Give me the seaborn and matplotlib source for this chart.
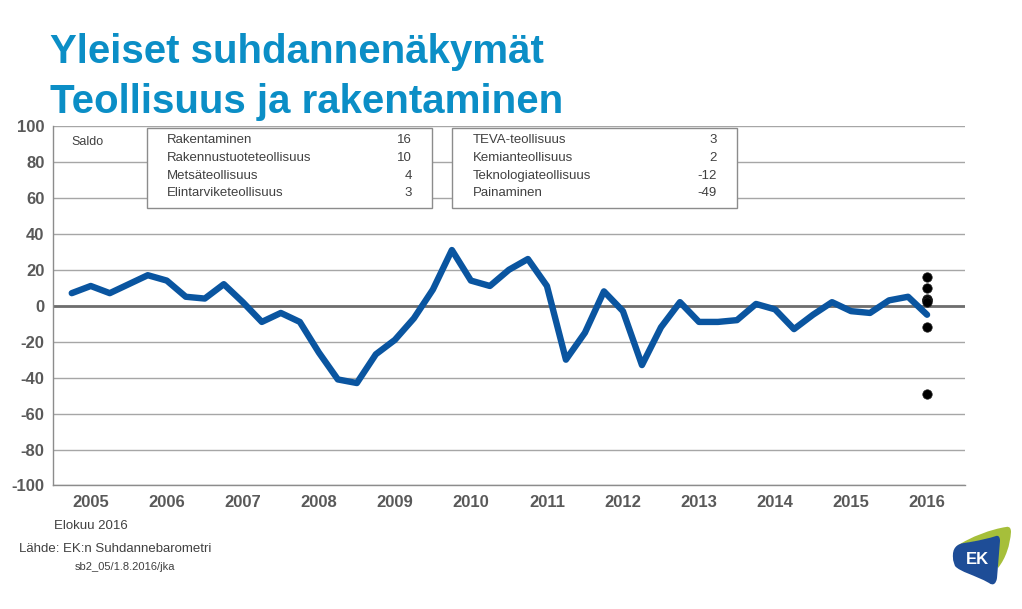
import matplotlib
matplotlib.use("Agg")
import matplotlib.pyplot as plt
import matplotlib.ticker as mticker
from matplotlib.patches import Rectangle, PathPatch
from matplotlib.path import Path
import seaborn as sns
import pandas as pd
import numpy as np

# =========================
# DATA
# =========================

years = [2005, 2006, 2007, 2008, 2009, 2010, 2011, 2012, 2013, 2014, 2015, 2016]

# quarterly saldo, 2005 Q2 ... 2016 Q3
saldo = [7, 11, 7, 12, 17, 14, 5, 4, 12, 2, -9, -4,
         -9, -26, -41, -43, -27, -19, -7, 9, 31, 14, 11, 20,
         26, 11, -30, -15, 8, -3, -33, -12, 2, -9, -9, -8,
         1, -2, -13, -5, 2, -3, -4, 3, 5, -5]

labels_left = ["Rakentaminen", "Rakennustuoteteollisuus", "Metsäteollisuus", "Elintarviketeollisuus"]
values_left = [16, 10, 4, 3]
labels_right = ["TEVA-teollisuus", "Kemianteollisuus", "Teknologiateollisuus", "Painaminen"]
values_right = [3, 2, -12, -49]

title_lines = ["Yleiset suhdannenäkymät", "Teollisuus ja rakentaminen"]

df = pd.DataFrame({"q": range(len(saldo)), "saldo": saldo})
last_q = df["q"].iloc[-1]
dots = pd.DataFrame({"q": last_q, "saldo": values_left + values_right})

# =========================
# STYLE
# =========================

sns.set_style("white")
plt.rcParams["font.family"] = ["Liberation Sans", "DejaVu Sans"]
plt.rcParams["axes.unicode_minus"] = False

narrow = ["Liberation Sans Narrow", "Liberation Sans", "DejaVu Sans"]
grey_txt = "#595959"
dark_txt = "#404040"

fig = plt.figure(figsize=(10.22, 6.09), dpi=100)
ax = fig.add_axes([0.0516, 0.2028, 0.8927, 0.5903])

# =========================
# PLOT
# =========================

ax.axhline(0, color="#6e6e6e", lw=2, zorder=2)

sns.lineplot(data=df, x="q", y="saldo", ax=ax, color="#0a55a0",
             lw=4.6, legend=False, zorder=3,
             solid_joinstyle="round", solid_capstyle="round")

sns.scatterplot(data=dots, x="q", y="saldo", ax=ax, color="black",
                s=46, edgecolor="#222222", linewidth=0.5, zorder=4,
                legend=False)

ax.set_xlim(-1, len(years) * 4 - 1)
ax.set_ylim(-100, 100)

# y axis
ax.set_yticks(range(-100, 101, 20))
ax.yaxis.grid(True, color="#a6a6a6", lw=1)
ax.set_axisbelow(True)
ax.tick_params(axis="y", length=4, width=1, color="#8c8c8c",
               labelsize=12, labelcolor=grey_txt, pad=2)
for t in ax.get_yticklabels():
    t.set_fontweight("bold")

# x axis: long ticks at year borders, short ticks per quarter, year labels
borders = list(range(-1, len(years) * 4, 4))
ax.set_xticks(borders)
ax.set_xticklabels([])
minor_pos = [i for i in range(-1, len(years) * 4) if i not in borders]
minor_lab = [str(years[(i - 1) // 4]) if (i - 1) % 4 == 0 else "" for i in minor_pos]
ax.xaxis.set_minor_locator(mticker.FixedLocator(minor_pos))
ax.xaxis.set_minor_formatter(mticker.FixedFormatter(minor_lab))
ax.tick_params(axis="x", which="major", length=6, width=1, color="#8c8c8c")
ax.tick_params(axis="x", which="minor", length=3, width=1, color="#b0b0b0",
               labelsize=12, labelcolor=grey_txt, pad=4)
for t in ax.xaxis.get_minorticklabels():
    t.set_fontweight("bold")

ax.set_xlabel("")
ax.set_ylabel("")
for s in ["top", "right"]:
    ax.spines[s].set_visible(False)
for s in ["left", "bottom"]:
    ax.spines[s].set_color("#8c8c8c")
    ax.spines[s].set_linewidth(1)

# =========================
# TEXT BOXES
# =========================

ax.text(0.021, 0.955, "Saldo", transform=ax.transAxes, fontsize=9,
        color=dark_txt, va="center", family=narrow)

row_y = [0.961, 0.911, 0.861, 0.813]
boxes = [(0.103, 0.416, labels_left, values_left),
         (0.438, 0.750, labels_right, values_right)]
for x0, x1, labs, vals in boxes:
    ax.add_patch(Rectangle((x0, 0.772), x1 - x0, 0.222, transform=ax.transAxes,
                           facecolor="white", edgecolor="#8c8c8c", lw=1, zorder=5))
    for yy, lab, val in zip(row_y, labs, vals):
        ax.text(x0 + 0.022, yy, lab, transform=ax.transAxes, fontsize=9.5,
                color=dark_txt, va="center", family=narrow, zorder=6)
        ax.text(x1 - 0.022, yy, str(val), transform=ax.transAxes, fontsize=9.5,
                color=dark_txt, va="center", ha="right", family=narrow, zorder=6)

# =========================
# TITLE + FOOTER
# =========================

fig.text(0.049, 0.897, title_lines[0], fontsize=29, fontweight="bold",
         color="#0b8ec6", va="baseline")
fig.text(0.049, 0.815, title_lines[1], fontsize=29, fontweight="bold",
         color="#0b8ec6", va="baseline")

fig.text(0.053, 0.136, "Elokuu 2016", fontsize=9.5, color=dark_txt,
         va="center", family=narrow)
fig.text(0.019, 0.098, "Lähde: EK:n Suhdannebarometri", fontsize=9.5,
         color=dark_txt, va="center", family=narrow)
fig.text(0.073, 0.069, "sb2_05/1.8.2016/jka", fontsize=8, color=dark_txt,
         va="center", family=narrow)

# =========================
# LOGO (pixel-like coordinates)
# =========================

lg = fig.add_axes([948 / 1022, 1 - 590 / 609, 66 / 1022, 68 / 609])
lg.set_xlim(948, 1014)
lg.set_ylim(590, 522)
lg.axis("off")

M, C, L, Z = Path.MOVETO, Path.CURVE4, Path.LINETO, Path.CLOSEPOLY
green = Path([(957, 546),
              (970, 537), (992, 529), (1006, 527),
              (1010, 526), (1011, 529), (1011, 532),
              (1010, 545), (1006, 558), (998, 568),
              (996, 540),
              (985, 540), (968, 542), (957, 546),
              (957, 546)],
             [M, C, C, C, C, C, C, C, C, C, L, C, C, C, Z])
blue = Path([(953, 558),
             (952, 548), (957, 544), (964, 543),
             (978, 541), (990, 538), (996, 536),
             (999, 535), (1000, 538), (1000, 541),
             (997, 578),
             (996, 584), (993, 586), (989, 583),
             (975, 575), (960, 572), (955, 566),
             (954, 563), (953, 561), (953, 558),
             (953, 558)],
            [M, C, C, C, C, C, C, C, C, C, L, C, C, C, C, C, C, C, C, C, Z])
lg.add_patch(PathPatch(green, facecolor="#a6bf3a", edgecolor="none"))
lg.add_patch(PathPatch(blue, facecolor="#1e4d97", edgecolor="none"))
lg.text(977, 560, "EK", color="white", fontsize=12, fontweight="bold",
        ha="center", va="center")

fig.savefig("out.png", dpi=100)
plt.close(fig)
